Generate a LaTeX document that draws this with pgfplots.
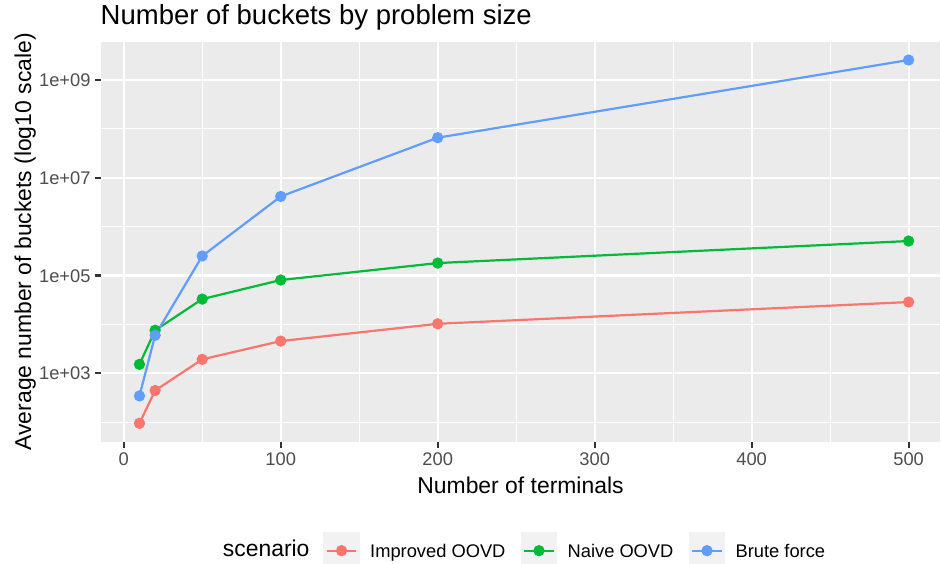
\documentclass[border=0pt]{standalone}
\usepackage{fontspec}
\setmainfont{Liberation Sans}
\usepackage{pgfplots}
\pgfplotsset{compat=1.18}
\definecolor{ggred}{HTML}{F8766D}
\definecolor{gggreen}{HTML}{00BA38}
\definecolor{ggblue}{HTML}{619CFF}
\definecolor{ggpanel}{HTML}{EBEBEB}
\definecolor{ggkey}{HTML}{F2F2F2}
\definecolor{ggtext}{HTML}{4D4D4D}
\definecolor{ggtick}{HTML}{333333}
\newcommand{\tickfont}{\fontsize{18.3pt}{18.3pt}\selectfont}
\newcommand{\labfont}{\fontsize{22.9pt}{22.9pt}\selectfont}

\begin{document}
\begin{tikzpicture}
\useasboundingbox (0pt,0pt) rectangle (941pt,564pt);
\begin{axis}[
    at={(101pt,122pt)}, anchor=south west,
    scale only axis, width=839pt, height=400.3pt,
    xmin=-14.5, xmax=520,
    ymode=log, ymin=39.4, ymax=6.07e9,
    axis background/.style={fill=ggpanel},
    axis line style={draw=none},
    xtick={0,100,...,500}, minor xtick={50,150,...,450},
    ytick={1e3,1e5,1e7,1e9}, minor ytick={1e2,1e4,1e6,1e8},
    yticklabels={1e+03,1e+05,1e+07,1e+09},
    grid=both,
    major grid style={white, line width=2.2pt},
    minor grid style={white, line width=1.1pt},
    xtick pos=left, ytick pos=left,
    tick align=outside,
    major tick length=5.7pt, minor tick length=0pt,
    tick style={ggtick, line width=2.2pt},
    /pgf/number format/assume math mode=true,
    ticklabel style={font=\tickfont, text=ggtext, inner sep=0pt,
        text height=13.1pt, text depth=0pt},
    xticklabel style={yshift=-4.6pt},
    yticklabel style={xshift=-4.6pt},
    xlabel={Number of terminals},
    xlabel style={at={(axis description cs:0.5,-0.1092)}, anchor=center,
        inner sep=0pt, font=\labfont, text height=16.4pt, text depth=0pt},
    ylabel={Average number of buckets (log10 scale)},
    ylabel style={at={(axis description cs:-0.0932,0.5)}, anchor=center,
        inner sep=0pt, font=\labfont, text height=16.4pt, text depth=0pt},
    legend columns=3,
    legend style={at={(axis description cs:0.2646,-0.2715)}, anchor=west,
        draw=none, fill=none, inner sep=0pt,
        nodes={font=\tickfont, text=black, inner sep=0pt,
            text height=13.1pt, text depth=0pt},
        /tikz/every odd column/.append style={column sep=10.3pt},
        /tikz/every even column/.append style={column sep=15.2pt}},
    legend image code/.code={
        \fill[ggkey] (0pt,-17.5pt) rectangle (34.5pt,17.5pt);
        \draw[#1, mark repeat=2, mark phase=2]
            plot coordinates {(2.5pt,0pt) (17.25pt,0pt) (32pt,0pt)};
    },
    every axis plot/.append style={line width=2.2pt, mark=*, mark size=4.5pt},
]
\addplot[ggred, mark options={draw=none, fill=ggred}] coordinates {
    (10,95) (20,445) (50,1930) (100,4570) (200,10300) (500,28700)};
\addlegendentry{Improved OOVD}
\addplot[gggreen, mark options={draw=none, fill=gggreen}] coordinates {
    (10,1525) (20,7600) (50,33000) (100,81000) (200,180000) (500,508000)};
\addlegendentry{Naive OOVD}
\addplot[ggblue, mark options={draw=none, fill=ggblue}] coordinates {
    (10,345) (20,6000) (50,251000) (100,4.15e6) (200,6.6e7) (500,2.56e9)};
\addlegendentry{Brute force}
\end{axis}
\node[anchor=base west, inner sep=0pt, font=\fontsize{27.5pt}{27.5pt}\selectfont]
    at (100.5pt,539pt) {Number of buckets by problem size};
\node[anchor=west, inner sep=0pt, font=\labfont, text height=11.9pt,
    text depth=0pt] at (222.7pt,13.3pt) {scenario};
\end{tikzpicture}
\end{document}
